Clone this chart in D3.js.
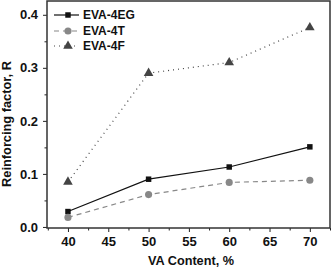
<!DOCTYPE html>
<html><head><meta charset="utf-8">
<script src="https://cdn.jsdelivr.net/npm/d3@7"></script>
<style>body{margin:0;background:#fff}svg{display:block}text{font-family:Arial,"Liberation Sans",sans-serif;font-weight:bold}</style>
</head><body><svg id="c" width="331" height="270"></svg>
<script>
const vaContent = [40, 50, 60, 70];
const eva4EG = [0.029, 0.090, 0.113, 0.151];
const eva4T = [0.018, 0.061, 0.084, 0.088];
const eva4F = [0.085, 0.290, 0.310, 0.376];
const seriesNames = ["EVA-4EG", "EVA-4T", "EVA-4F"];
const xTicks = [40, 45, 50, 55, 60, 65, 70];
const yTicks = [0.0, 0.1, 0.2, 0.3, 0.4];

const svg = d3.select("#c");
const L = 47, R = 330, T = 1, B = 228;
const x = d3.scaleLinear().domain([37.4, 72.5]).range([L, R]);
const y = d3.scaleLinear().domain([-0.002, 0.426]).range([B, T]);

// axes
const xAxis = d3.axisBottom(x).tickValues(xTicks).tickSize(4).tickPadding(5).tickFormat(d3.format("d"));
const yAxis = d3.axisLeft(y).tickValues(yTicks).tickSize(4).tickPadding(5).tickFormat(d3.format(".1f"));
svg.append("g").attr("transform", `translate(0,${B})`).call(xAxis);
svg.append("g").attr("transform", `translate(${L},0)`).call(yAxis);
// minor ticks
const xMinor = [37.5, 42.5, 47.5, 52.5, 57.5, 62.5, 67.5, 72.5];
const yMinor = [0.05, 0.15, 0.25, 0.35];
svg.append("g").attr("transform", `translate(0,${B})`).call(d3.axisBottom(x).tickValues(xMinor).tickSize(2.5).tickFormat(""));
svg.append("g").attr("transform", `translate(${L},0)`).call(d3.axisLeft(y).tickValues(yMinor).tickSize(2.5).tickFormat(""));
svg.selectAll(".domain").remove();
svg.selectAll(".tick line").attr("stroke", "#222").attr("stroke-width", 1);
svg.selectAll(".tick text").attr("font-size", 13).attr("fill", "#111");

// frame
svg.append("rect").attr("x", L).attr("y", T).attr("width", R - L).attr("height", B - T)
  .attr("fill", "none").attr("stroke", "#333").attr("stroke-width", 1.5);

const styles = [
  {data: eva4EG, color: "#111", dash: null, sym: d3.symbolSquare, size: 30},
  {data: eva4T, color: "#888", dash: "5,4", sym: d3.symbolCircle, size: 40},
  {data: eva4F, color: "#444", dash: "1,4", sym: d3.symbolTriangle, size: 40}
];
const line = d3.line().x((d, i) => x(vaContent[i])).y(d => y(d));
styles.forEach(s => {
  svg.append("path").attr("d", line(s.data)).attr("fill", "none")
    .attr("stroke", s.color).attr("stroke-width", 1.2).attr("stroke-dasharray", s.dash);
  svg.selectAll(null).data(s.data).enter().append("path")
    .attr("d", d3.symbol().type(s.sym).size(s.size))
    .attr("transform", (d, i) => `translate(${x(vaContent[i])},${y(d)})`)
    .attr("fill", s.color);
});

// legend
const legY = [15, 31, 46];
styles.forEach((s, i) => {
  svg.append("line").attr("x1", 54).attr("x2", 79).attr("y1", legY[i]).attr("y2", legY[i])
    .attr("stroke", s.color).attr("stroke-width", 1.2).attr("stroke-dasharray", s.dash);
  svg.append("path").attr("d", d3.symbol().type(s.sym).size(s.size))
    .attr("transform", `translate(68,${legY[i]})`).attr("fill", s.color);
  svg.append("text").attr("x", 83).attr("y", legY[i]).attr("dy", "0.35em")
    .attr("font-size", 12).attr("fill", "#111").text(seriesNames[i]);
});

// titles
svg.append("text").attr("x", 191).attr("y", 265).attr("text-anchor", "middle")
  .attr("font-size", 12.7).attr("fill", "#111").text("VA Content, %");
svg.append("text").attr("transform", "translate(11,124) rotate(-90)").attr("text-anchor", "middle")
  .attr("font-size", 12.8).attr("fill", "#111").text("Reinforcing factor, R");
</script></body></html>
